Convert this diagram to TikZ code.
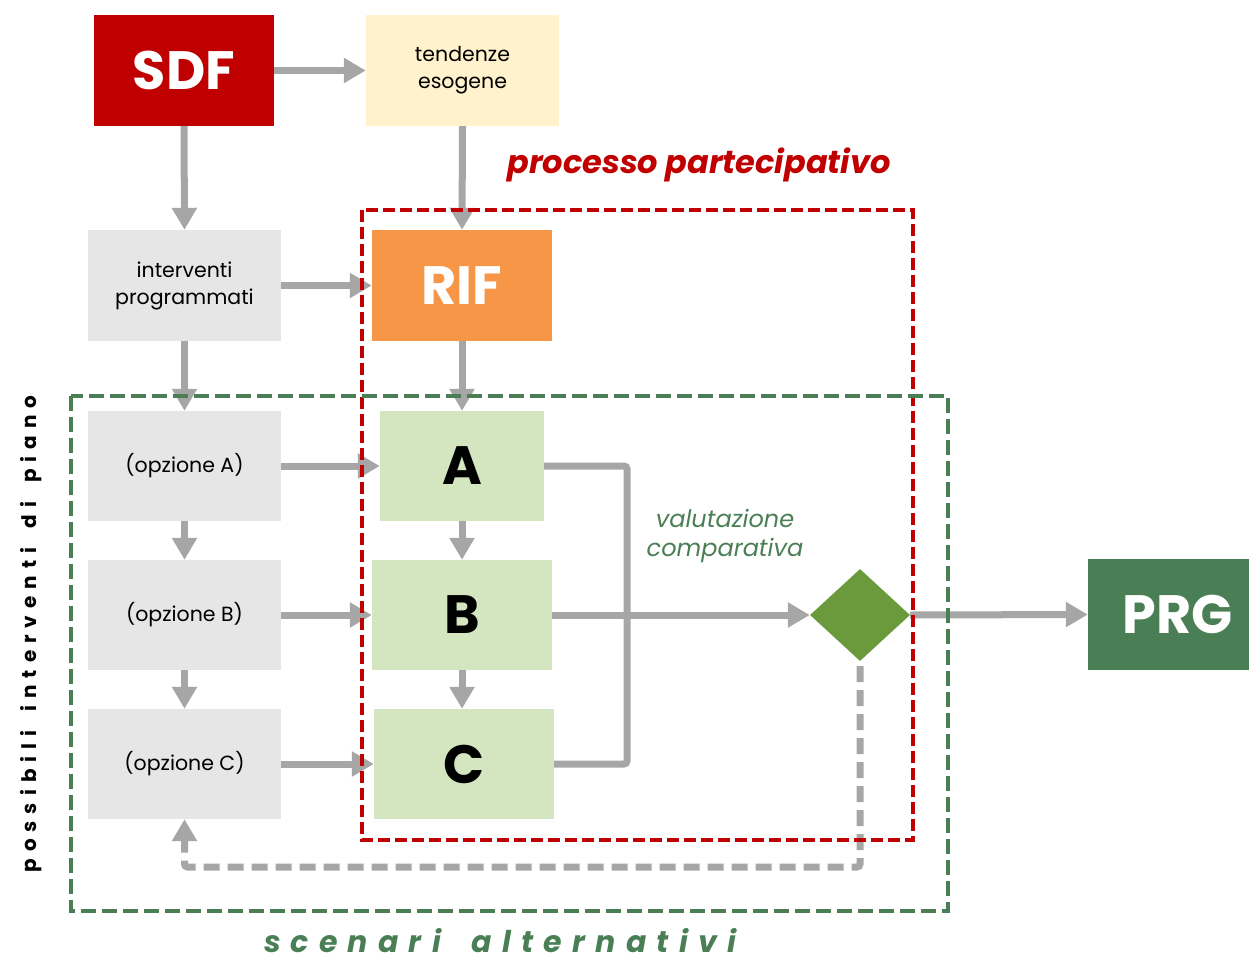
\documentclass[tikz,border=0pt]{standalone}
\usepackage{fontspec}
\setmainfont{Poppins}
\usetikzlibrary{arrows.meta,shapes.geometric}
\definecolor{cred}{HTML}{C00000}
\definecolor{cyel}{HTML}{FFF2CC}
\definecolor{cgray}{HTML}{E7E6E6}
\definecolor{corange}{HTML}{F79646}
\definecolor{clgreen}{HTML}{D3E6C0}
\definecolor{cdgreen}{HTML}{4A7F55}
\definecolor{cdia}{HTML}{6A9A3C}
\definecolor{carrow}{HTML}{A6A6A6}
\tikzset{
  boxbase/.style={rectangle,inner sep=0pt,align=center},
  bigbox/.style={boxbase,text=white,font=\fontsize{54}{60}\selectfont\bfseries},
  smallbox/.style={boxbase,fill=cgray,font=\fontsize{20.5}{27}\selectfont},
  letterbox/.style={boxbase,fill=clgreen,font=\fontsize{54}{60}\selectfont\bfseries},
  arr/.style={draw=carrow,line width=7pt,-{Triangle[length=22pt,width=24pt]}},
  plainline/.style={draw=carrow,line width=7pt,rounded corners=3pt},
  fbarr/.style={draw=carrow,line width=7pt,dash pattern=on 16pt off 8pt,rounded corners=3pt,-{Triangle[length=22pt,width=24pt]}},
  reddash/.style={draw=cred,line width=3.5pt,dash pattern=on 12pt off 5pt},
  greendash/.style={draw=cdgreen,line width=4pt,dash pattern=on 15pt off 6pt}
}
\begin{document}
\begin{tikzpicture}[x=1pt,y=-1pt]
\useasboundingbox (0,0) rectangle (1249,963);
% boxes
\node[bigbox,fill=cred,minimum width=180pt,minimum height=111pt] (SDF) at (184,70.5) {SDF};
\node[smallbox,fill=cyel,minimum width=193pt,minimum height=111pt] (tend) at (462.5,70.5) {tendenze\\esogene};
\node[smallbox,minimum width=193pt,minimum height=111pt] (interv) at (184.5,285.5) {interventi\\programmati};
\node[bigbox,fill=corange,minimum width=180pt,minimum height=111pt] (RIF) at (462,285.5) {RIF};
\node[smallbox,minimum width=193pt,minimum height=110pt] (optA) at (184.5,466) {(opzione A)};
\node[smallbox,minimum width=193pt,minimum height=110pt] (optB) at (184.5,615) {(opzione B)};
\node[smallbox,minimum width=193pt,minimum height=110pt] (optC) at (184.5,764) {(opzione C)};
\node[letterbox,minimum width=164pt,minimum height=110pt] (A) at (462,466) {A};
\node[letterbox,minimum width=180pt,minimum height=110pt] (B) at (462,615) {B};
\node[letterbox,minimum width=180pt,minimum height=110pt] (C) at (464,764) {C};
\node[bigbox,fill=cdgreen,minimum width=180pt,minimum height=111pt] (PRG) at (1178,614.5) {PRG};
\node[diamond,fill=cdia,inner sep=0pt,minimum width=100pt,minimum height=92pt] (dia) at (860,615) {};
% connectors
\draw[arr] (SDF.east) -- (tend.west);
\draw[arr] (SDF.south) -- (interv.north);
\draw[arr] (tend.south) -- (RIF.north);
\draw[arr] (interv.east) -- (RIF.west);
\draw[arr] (interv.south) -- (optA.north);
\draw[arr] (RIF.south) -- (A.north);
\draw[arr] (optA.east) -- (A.west);
\draw[arr] (optB.east) -- (B.west);
\draw[arr] (optC.east) -- (C.west);
\draw[arr] (A.south) -- (B.north);
\draw[arr] (B.south) -- (B.south |- C.north);
\draw[arr] (optA.south) -- (optB.north);
\draw[arr] (optB.south) -- (optC.north);
\coordinate (jx) at (627,466);
\draw[plainline] (A.east) -- (jx) |- (C.east);
\draw[arr] (B.east) -- (dia.west);
\draw[arr] (dia.east) -- (PRG.west);
\coordinate (fb) at (860,867);
\coordinate (diab) at (860,666);
\draw[fbarr] (diab) -- (fb) -| (optC.south);
% frames
\draw[reddash] (362,210) rectangle (913,840);
\draw[greendash] (71,396) rectangle (948,911);
% labels
\node[text=cred,font=\fontsize{32}{36}\selectfont\bfseries\itshape] (lproc) at (699,165) {processo partecipativo};
\node[text=cdgreen,align=center,font=\fontsize{24}{29}\selectfont\itshape] (lval) at (725,536) {valutazione\\comparativa};
\node[rotate=90,font=\fontsize{20}{22}\selectfont\bfseries\addfontfeatures{LetterSpace=35}] (lposs) at (31,634) {possibili\hspace{8pt} interventi\hspace{8pt} di\hspace{8pt} piano};
\node[text=cdgreen,font=\fontsize{30}{34}\selectfont\bfseries\itshape\addfontfeatures{LetterSpace=34}] (lscen) at (500,941) {scenari\hspace{14pt} alternativi};
\end{tikzpicture}
\end{document}
